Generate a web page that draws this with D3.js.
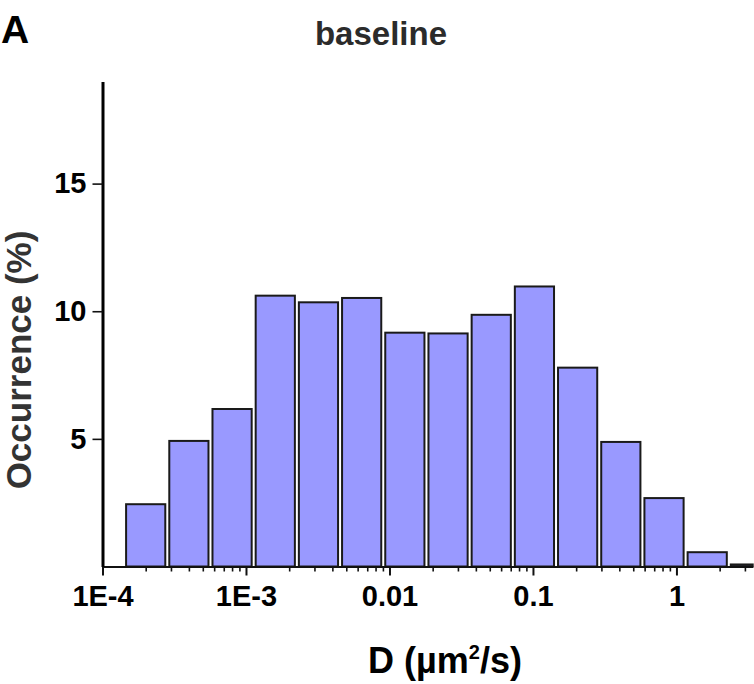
<!DOCTYPE html>
<html>
<head>
<meta charset="utf-8">
<script src="https://cdn.jsdelivr.net/npm/d3@7"></script>
<style>
  body { margin: 0; background: #fff; }
  text { font-family: "Liberation Sans", Arial, Helvetica, sans-serif; font-weight: bold; }
</style>
</head>
<body>
<svg id="chart"></svg>
<script>
// Bin centres of the histogram (D, µm²/s) and occurrence in %
const binCenters = [2e-4, 4e-4, 8e-4, 1.6e-3, 3.2e-3, 6.4e-3, 0.0128, 0.0256, 0.0512, 0.1024, 0.2048, 0.4096, 0.8192, 1.6384, 3.2768];
const occurrence = [2.44, 4.92, 6.17, 10.61, 10.35, 10.52, 9.16, 9.13, 9.86, 10.97, 7.79, 4.88, 2.68, 0.56, 0.08];

// Axis ticks
const xTickValues = [1e-4, 1e-3, 0.01, 0.1, 1];
const xTickLabels = ['1E-4', '1E-3', '0.01', '0.1', '1'];
const yTickValues = [5, 10, 15];

class HistogramVis {

  constructor(_config) {
    this.config = {
      parentElement: _config.parentElement,
      containerWidth: _config.containerWidth || 754,
      containerHeight: _config.containerHeight || 684,
      margin: _config.margin || { top: 81.5, bottom: 117.5, right: 1.3, left: 102.5 }
    }

    this.width = this.config.containerWidth - this.config.margin.left - this.config.margin.right;
    this.height = this.config.containerHeight - this.config.margin.top - this.config.margin.bottom;
  }

  initVis() {
    let vis = this;

    vis.svg = d3.select(vis.config.parentElement)
        .attr('width', vis.config.containerWidth)
        .attr('height', vis.config.containerHeight);

    vis.chart = vis.svg.append('g')
        .attr('transform', `translate(${vis.config.margin.left},${vis.config.margin.top})`);

    // Scales
    vis.x = d3.scaleLog()
        .domain([1e-4, 3.4])
        .range([0, vis.width]);

    vis.y = d3.scaleLinear()
        .domain([0, 19])
        .range([vis.height, 0]);

    // Bars span one log2 bin around each centre, with a small gap
    vis.gap = 2;
    vis.data = binCenters.map((c, i) => ({ center: c, value: occurrence[i] }));
  }

  render() {
    let vis = this;

    vis.chart.selectAll('.bar')
        .data(vis.data)
      .join('rect')
        .attr('class', 'bar')
        .attr('x', d => vis.x(d.center / Math.SQRT2) + vis.gap)
        .attr('width', d => Math.min(vis.x(d.center * Math.SQRT2) - vis.gap, vis.width) - vis.x(d.center / Math.SQRT2) - vis.gap)
        .attr('y', d => vis.y(d.value))
        .attr('height', d => vis.y(0) - vis.y(d.value))
        .attr('fill', '#9999ff')
        .attr('stroke', '#1a1a1a')
        .attr('stroke-width', 2);

    // Minor x ticks (2..9 in each decade)
    let minor = vis.x.ticks().filter(t => !xTickValues.some(v => Math.abs(v - t) / v < 1e-6));
    vis.chart.append('g')
        .attr('transform', `translate(0,${vis.height})`)
        .call(d3.axisBottom(vis.x).tickValues(minor).tickSize(5).tickSizeOuter(0).tickFormat(''))
        .call(g => g.select('.domain').remove())
        .call(g => g.selectAll('line').attr('stroke', '#111').attr('stroke-width', 1.6));

    // Major x axis
    vis.xAxisG = vis.chart.append('g')
        .attr('transform', `translate(0,${vis.height})`)
        .call(d3.axisBottom(vis.x)
            .tickValues(xTickValues)
            .tickSize(9)
            .tickSizeOuter(0)
            .tickPadding(10)
            .tickFormat((d, i) => xTickLabels[i]));

    vis.xAxisG.select('.domain').attr('stroke', '#111').attr('stroke-width', 2);
    vis.xAxisG.selectAll('line').attr('stroke', '#111').attr('stroke-width', 2);
    vis.xAxisG.selectAll('text')
        .attr('font-size', 29)
        .attr('fill', '#000');

    // Y axis
    vis.yAxisG = vis.chart.append('g')
        .call(d3.axisLeft(vis.y)
            .tickValues(yTickValues)
            .tickSize(10)
            .tickSizeOuter(0)
            .tickPadding(6));

    vis.yAxisG.select('.domain').attr('stroke', '#000').attr('stroke-width', 3);
    vis.yAxisG.selectAll('line').attr('stroke', '#111').attr('stroke-width', 1.6);
    vis.yAxisG.selectAll('text')
        .attr('font-size', 29)
        .attr('fill', '#000');

    // Y axis title
    vis.svg.append('text')
        .attr('transform', `translate(31,360) rotate(-90)`)
        .attr('text-anchor', 'middle')
        .attr('font-size', 35)
        .attr('fill', '#333')
        .text('Occurrence (%)');

    // X axis title with superscript
    let xt = vis.svg.append('text')
        .attr('x', 445)
        .attr('y', 673)
        .attr('text-anchor', 'middle')
        .attr('font-size', 36)
        .attr('fill', '#000');
    xt.append('tspan').text('D (\u00b5m');
    xt.append('tspan').attr('font-size', 20).attr('dy', -14).text('2');
    xt.append('tspan').attr('dy', 14).text('/s)');

    // Chart title
    vis.svg.append('text')
        .attr('x', 381)
        .attr('y', 45)
        .attr('text-anchor', 'middle')
        .attr('font-size', 33)
        .attr('fill', '#2b2b2b')
        .text('baseline');

    // Panel letter
    vis.svg.append('text')
        .attr('x', 1)
        .attr('y', 43)
        .attr('font-size', 39)
        .attr('fill', '#000')
        .text('A');
  }
}

const vis = new HistogramVis({ parentElement: '#chart' });
vis.initVis();
vis.render();
</script>
</body>
</html>
